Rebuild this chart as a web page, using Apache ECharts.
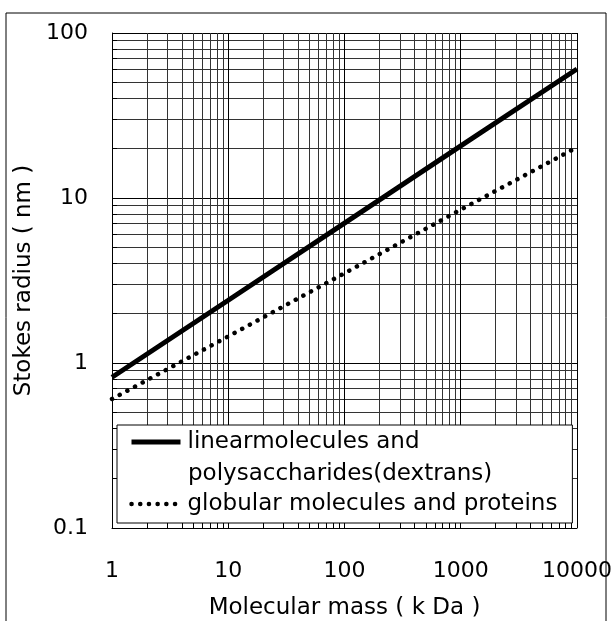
<!DOCTYPE html>
<html lang="en">
<head>
    <meta charset="UTF-8">
    <title>Stokes radius</title>
    <script type="text/javascript" src="https://cdn.jsdelivr.net/npm/echarts@6/dist/echarts.min.js"></script>
    <style>
        html, body { margin: 0; padding: 0; background: #fff; }
    </style>
</head>
<body>
<div id="chart" style="width: 613px;height:621px;"></div>
<script>
    // molecular mass (kDa) and stokes radius (nm)
    var massValues = [1, 10, 100, 1000, 10000];
    var linearRadius = [0.82, 2.4, 7.05, 20.7, 60.5];
    var globularRadius = [0.605, 1.45, 3.5, 8.5, 20.3];
    var seriesNames = ['linearmolecules and polysaccharides(dextrans)', 'globular molecules and proteins'];

    var font = 'DejaVu Sans';
    var solidStyle = {color: '#000', width: 5};
    var dotStyle = {color: '#000', width: 4.5, type: [0.1, 8.6], cap: 'round'};

    function pairs(xs, ys) {
        return xs.map(function (x, i) { return [x, ys[i]]; });
    }

    function plain(v) {
        return String(+(+v).toPrecision(3));
    }

    var option = {
        animation: false,
        grid: {left: 112, top: 33, right: 36, bottom: 93, show: false, outerBoundsMode: 'none'},
        graphic: [
            {
                type: 'rect',
                z: -10,
                shape: {x: 6, y: 13, width: 600, height: 620},
                style: {fill: 'none', stroke: '#000', lineWidth: 1}
            },
            {
                // second line of the first legend entry
                type: 'text',
                z: 100,
                x: 188,
                y: 474,
                style: {
                    text: 'polysaccharides(dextrans)',
                    font: '23px "DejaVu Sans"',
                    fill: '#000',
                    verticalAlign: 'middle'
                }
            }
        ],
        legend: {
            orient: 'vertical',
            left: 117,
            top: 425,
            padding: [5, 15, 7, 12],
            itemWidth: 49,
            itemHeight: 14,
            itemGap: 38,
            backgroundColor: '#fff',
            borderColor: '#000',
            borderWidth: 1,
            borderRadius: 0,
            data: [
                {name: seriesNames[0], lineStyle: solidStyle},
                {name: seriesNames[1], lineStyle: dotStyle}
            ],
            itemStyle: {opacity: 0},
            formatter: function (name) {
                return name === seriesNames[0] ? 'linearmolecules and' : name;
            },
            textStyle: {
                fontFamily: font,
                fontSize: 23,
                lineHeight: 24,
                color: '#000',
                padding: [0, 0, 0, 2]
            }
        },
        xAxis: {
            type: 'log',
            logBase: 10,
            min: 1,
            max: 10000,
            name: 'Molecular mass ( k Da )',
            nameLocation: 'middle',
            nameGap: 69,
            nameTextStyle: {fontFamily: font, fontSize: 23, color: '#000'},
            axisLine: {lineStyle: {color: '#000', width: 1}},
            axisTick: {inside: true, length: 10, lineStyle: {color: '#000'}},
            minorTick: {show: true, splitNumber: 9, length: 5, lineStyle: {color: '#000'}},
            axisLabel: {margin: 32, fontFamily: font, fontSize: 22, color: '#000', formatter: plain},
            splitLine: {show: true, lineStyle: {color: '#000', width: 1}},
            minorSplitLine: {show: true, lineStyle: {color: '#333', width: 1}}
        },
        yAxis: {
            type: 'log',
            logBase: 10,
            min: 0.1,
            max: 100,
            name: 'Stokes radius ( nm )',
            nameLocation: 'middle',
            nameGap: 66,
            nameTextStyle: {fontFamily: font, fontSize: 23, color: '#000'},
            axisLine: {show: true, lineStyle: {color: '#000', width: 1}},
            axisTick: {show: true, inside: true, length: 10, lineStyle: {color: '#000'}},
            minorTick: {show: true, splitNumber: 9, length: 5, lineStyle: {color: '#000'}},
            axisLabel: {margin: 24, fontFamily: font, fontSize: 22, color: '#000', formatter: plain},
            splitLine: {show: true, lineStyle: {color: '#000', width: 1}},
            minorSplitLine: {show: true, lineStyle: {color: '#333', width: 1}}
        },
        series: [
            {
                name: seriesNames[0],
                type: 'line',
                symbol: 'none',
                z: 5,
                itemStyle: {color: '#000', opacity: 0},
                lineStyle: solidStyle,
                data: pairs(massValues, linearRadius)
            },
            {
                name: seriesNames[1],
                type: 'line',
                symbol: 'none',
                z: 5,
                itemStyle: {color: '#000', opacity: 0},
                lineStyle: dotStyle,
                data: pairs(massValues, globularRadius)
            }
        ]
    };

    var myChart = echarts.init(document.getElementById('chart'));
    myChart.setOption(option);
</script>
</body>
</html>
